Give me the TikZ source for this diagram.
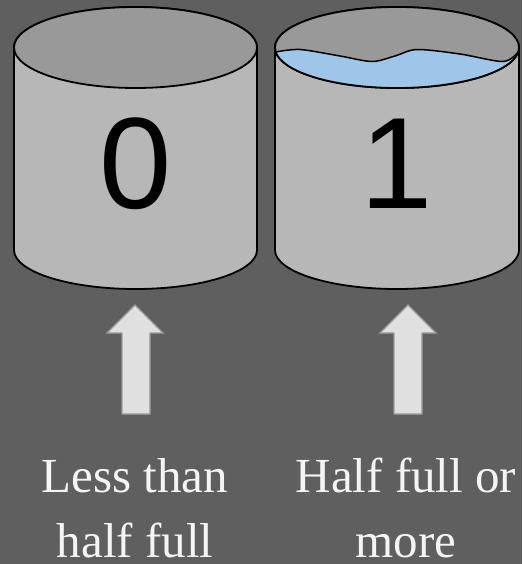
\documentclass[tikz,border=0pt]{standalone}
\usepackage{fontspec}
\setmainfont{Liberation Serif}
\newfontfamily\digitfont{Liberation Sans}
\begin{document}
\begin{tikzpicture}[x=1pt,y=1pt,
  bodyfill/.style={fill=body,draw=black,line width=1.8pt,line join=round},
  topfill/.style={fill=rim,draw=black,line width=1.8pt},
  upblock/.style={fill=arrowfill,draw=arrowedge,line width=1.4pt,line join=miter},
  digit/.style={inner sep=0pt,anchor=base,font=\digitfont\fontsize{130}{130}\selectfont,text=black},
  caption/.style={inner sep=0pt,anchor=base,font=\fontsize{49}{66}\selectfont,text=captext}]
\definecolor{bg}{HTML}{5F5F5F}
\definecolor{body}{HTML}{B7B7B7}
\definecolor{rim}{HTML}{999999}
\definecolor{water}{HTML}{9FC5E8}
\definecolor{arrowfill}{HTML}{E0E0E0}
\definecolor{arrowedge}{HTML}{9A9A9A}
\definecolor{captext}{HTML}{F4F4F4}
\fill[bg] (0,0) rectangle (522,-564);
\useasboundingbox (0,0) rectangle (522,-564);

% left tank (empty)
\draw[bodyfill] (14,-47.5) -- (14,-250)
  arc[start angle=180,end angle=360,x radius=121.5,y radius=39]
  -- (257,-47.5)
  arc[start angle=0,end angle=180,x radius=121.5,y radius=40.5] -- cycle;
\draw[topfill] (135.5,-47.5) ellipse[x radius=121.5,y radius=40.5];

% right tank (with water)
\draw[bodyfill] (275,-47.5) -- (275,-250)
  arc[start angle=180,end angle=360,x radius=122,y radius=39]
  -- (519,-47.5)
  arc[start angle=0,end angle=180,x radius=122,y radius=40.5] -- cycle;
\draw[topfill] (397,-47.5) ellipse[x radius=122,y radius=40.5];
\fill[water]
  plot[smooth,tension=0.5] coordinates {(275.8,-52) (300,-49.5) (340,-56) (372,-61.5) (395,-56) (417,-49.5) (460,-54) (503,-61.5) (518.2,-52)}
  arc[start angle=-6.38,end angle=-173.62,x radius=122,y radius=40.5] -- cycle;
\draw[line width=1.5pt] plot[smooth,tension=0.5] coordinates {(275.8,-52) (300,-49.5) (340,-56) (372,-61.5) (395,-56) (417,-49.5) (460,-54) (503,-61.5) (518.2,-52)};
\draw[line width=1.8pt] (518.2,-52) arc[start angle=-6.38,end angle=-173.62,x radius=122,y radius=40.5];

% digits
\node[digit] (zero) at (135.5,-208) {0};
\node[digit] (one) at (397,-208) {1};

% up arrows
\draw[upblock] (135,-305) -- (163,-333) -- (150,-333) -- (150,-414) -- (122,-414) -- (122,-333) -- (107,-333) -- cycle;
\draw[upblock] (408,-305) -- (436,-333) -- (422,-333) -- (422,-414) -- (394,-414) -- (394,-333) -- (380,-333) -- cycle;

% captions
\node[caption] (l1) at (135,-492) {Less than};
\node[caption] (l2) at (135,-557) {half full};
\node[caption] (r1) at (406,-492) {Half full or};
\node[caption] (r2) at (406,-557) {more};
\end{tikzpicture}
\end{document}
